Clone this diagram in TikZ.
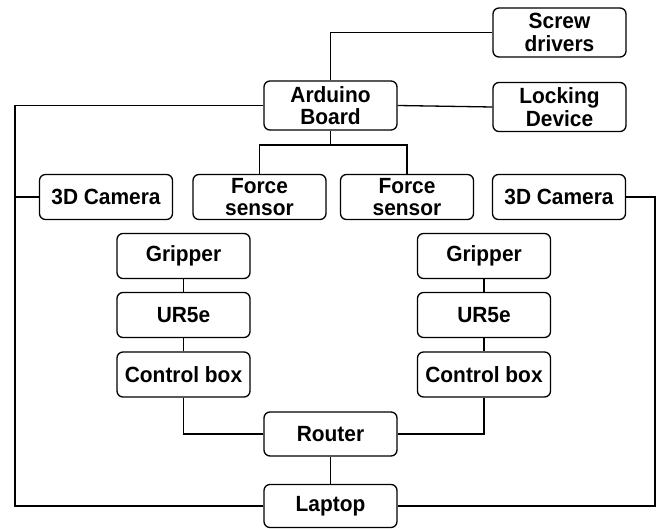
\documentclass[tikz,border=0pt]{standalone}
\usepackage{fontspec}
\newfontfamily\boxfont{Liberation Sans}[FakeStretch=0.95]
\begin{document}
\begin{tikzpicture}[x=1pt,y=-1pt,
  box/.style={draw, line width=1.3pt, rounded corners=6pt, fill=white,
    minimum width=133pt, inner sep=0pt, align=center,
    font=\boxfont\bfseries\fontsize{22}{22.6}\selectfont},
  tall/.style={box, minimum height=49pt},
  short/.style={box, minimum height=45pt},
  link/.style={line width=1.3pt}]
\useasboundingbox (0,0) rectangle (662,529);
% nodes
\node[tall]  (screw)   at (559.5,32.5)  {Screw\\drivers};
\node[tall]  (arduino) at (330.5,105.5) {Arduino\\Board};
\node[tall]  (locking) at (559.5,107)   {Locking\\Device};
\node[short] (camL)    at (106,197)     {3D Camera};
\node[short] (fs1)     at (259.5,197)   {Force\\sensor};
\node[short] (fs2)     at (407,197)     {Force\\sensor};
\node[short] (camR)    at (559,197)     {3D Camera};
\node[short] (gripL)   at (183.5,256)   {Gripper};
\node[short] (urL)     at (183.5,315)   {UR5e};
\node[short] (ctrlL)   at (183.5,374.5) {Control box};
\node[short] (gripR)   at (484,256)     {Gripper};
\node[short] (urR)     at (484,315)     {UR5e};
\node[short] (ctrlR)   at (484,374.5)   {Control box};
\node[short, minimum height=44pt] (router) at (330.5,434) {Router};
\node[short, minimum height=43pt] (laptop) at (330.5,506) {Laptop};
% helper coordinates
\coordinate (lefttop) at (15,105.5);
\coordinate (leftbot) at (15,506);
\coordinate (rightbot) at (655,506);
\coordinate (fork) at (330.5,145);
% connectors
\draw[link] (arduino.north) |- (screw.west);
\draw[link] (arduino.east) -- (locking.west);
\draw[link] (arduino.west) -- (lefttop) -- (leftbot) -- (laptop.west);
\draw[link] (camL.west) -- (camL.west -| lefttop);
\draw[link] (camR.east) -| (rightbot) -- (laptop.east);
\draw[link] (arduino.south) -- (fork);
\draw[link] (fs1.north) |- (fork) -| (fs2.north);
\draw[link] (gripL) -- (urL) -- (ctrlL);
\draw[link] (gripR) -- (urR) -- (ctrlR);
\draw[link] (ctrlL.south) |- (router.west);
\draw[link] (ctrlR.south) |- (router.east);
\draw[link] (router) -- (laptop);
\end{tikzpicture}
\end{document}
